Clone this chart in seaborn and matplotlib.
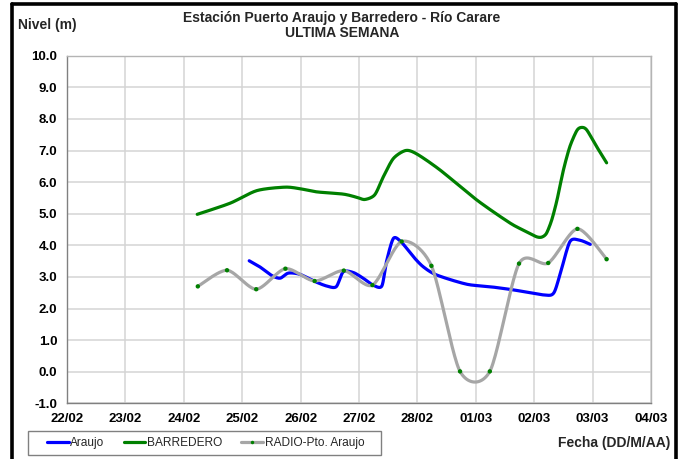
import numpy as np
import pandas as pd
import matplotlib
matplotlib.use("Agg")
import matplotlib.pyplot as plt
from matplotlib.lines import Line2D
from matplotlib.patches import Rectangle
import seaborn as sns

# ---------------- data (days since 22/02) ----------------
date_labels = ["22/02", "23/02", "24/02", "25/02", "26/02", "27/02",
               "28/02", "01/03", "02/03", "03/03", "04/03"]
y_ticks = [-1, 0, 1, 2, 3, 4, 5, 6, 7, 8, 9, 10]

araujo_x = [3.12, 3.30, 3.51, 3.65, 3.79, 3.99, 4.25, 4.45, 4.61, 4.73, 4.90,
            5.07, 5.24, 5.39, 5.47, 5.59, 5.73, 5.93, 6.10, 6.33, 6.84, 7.24,
            7.64, 8.16, 8.33, 8.44, 8.61, 8.78, 8.96]
araujo_y = [3.51, 3.32, 3.04, 2.96, 3.12, 3.08, 2.85, 2.71, 2.69, 3.16, 3.14,
            2.96, 2.74, 2.71, 3.48, 4.22, 4.09, 3.64, 3.32, 3.06, 2.77, 2.69,
            2.59, 2.43, 2.48, 3.06, 4.11, 4.16, 4.03]

barredero_x = [2.23, 2.79, 3.25, 3.73, 3.99, 4.28, 4.73, 4.96, 5.10, 5.27,
               5.42, 5.59, 5.80, 5.99, 6.39, 7.02, 7.59, 7.87, 8.04, 8.13,
               8.21, 8.30, 8.39, 8.50, 8.61, 8.73, 8.81, 8.90, 9.07, 9.24]
barredero_y = [4.98, 5.33, 5.73, 5.84, 5.79, 5.69, 5.62, 5.52, 5.45, 5.60,
               6.18, 6.75, 7.00, 6.89, 6.38, 5.43, 4.70, 4.43, 4.27, 4.26,
               4.38, 4.80, 5.43, 6.38, 7.12, 7.63, 7.73, 7.65, 7.12, 6.61]

radio_x = [2.24, 2.74, 3.24, 3.74, 4.24, 4.74, 5.23, 5.73, 6.24, 6.73, 7.24,
           7.74, 8.24, 8.74, 9.24]
radio_y = [2.70, 3.21, 2.61, 3.26, 2.87, 3.20, 2.74, 4.12, 3.35, 0.01, 0.01,
           3.42, 3.44, 4.52, 3.56]

series_names = ["Araujo", "BARREDERO", "RADIO-Pto. Araujo"]
series_colors = ["#0000FF", "#008000", "#A6A6A6"]


def smooth(xs, ys, sx=58.4, sy=31.6, n=24, tension=0.8):
    """Excel-like smoothed line (Bezier through the points)."""
    P = np.column_stack([np.asarray(xs) * sx, np.asarray(ys) * sy])
    k = tension / 6.0
    out = []
    N = len(P)
    for i in range(N - 1):
        p0 = P[i - 1] if i > 0 else P[i]
        p1 = P[i]
        p2 = P[i + 1]
        p3 = P[i + 2] if i + 2 < N else P[i + 1]
        c1 = p1 + (p2 - p0) * k
        c2 = p2 - (p3 - p1) * k
        t = np.linspace(0, 1, n, endpoint=(i == N - 2))[:, None]
        seg = ((1 - t) ** 3) * p1 + 3 * ((1 - t) ** 2) * t * c1 + 3 * (1 - t) * t ** 2 * c2 + t ** 3 * p2
        out.append(seg)
    out = np.vstack(out)
    return out[:, 0] / sx, out[:, 1] / sy


sns.set_theme(style="white")
plt.rcParams["font.family"] = ["Liberation Sans", "DejaVu Sans"]

fig = plt.figure(figsize=(6.84, 4.59), dpi=100)
ax = fig.add_axes([67 / 684, 1 - 403.3 / 459, (651 - 67) / 684, (403.3 - 55.7) / 459])

for (xs, ys), name, col in zip([(araujo_x, araujo_y), (barredero_x, barredero_y), (radio_x, radio_y)],
                               series_names, series_colors):
    sx_, sy_ = smooth(xs, ys)
    df = pd.DataFrame({"x": sx_, "y": sy_})
    sns.lineplot(data=df, x="x", y="y", sort=False, estimator=None, color=col,
                 lw=2.3, ax=ax, legend=False, solid_capstyle="round")

sns.scatterplot(x=radio_x, y=radio_y, color="#008000", s=10, edgecolor="none",
                ax=ax, zorder=5, legend=False)

ax.set_xlim(0, 10)
ax.set_ylim(-1, 10)
ax.set_xticks(range(len(date_labels)))
ax.set_xticklabels(date_labels)
ax.set_yticks(y_ticks)
ax.set_yticklabels([f"{v:.1f}" for v in y_ticks])
ax.set_xlabel("")
ax.set_ylabel("")
ax.grid(True, color="#D4D4D4", lw=1.1)
ax.set_axisbelow(True)
for s in ["top", "right"]:
    ax.spines[s].set_color("#B4B4B4")
    ax.spines[s].set_linewidth(1.0)
for s in ["left", "bottom"]:
    ax.spines[s].set_color("#808080")
    ax.spines[s].set_linewidth(1.0)
ax.tick_params(axis="both", which="both", direction="out", length=4, width=1,
               color="#808080", labelsize=9.5, pad=3)
for lab in ax.get_xticklabels() + ax.get_yticklabels():
    lab.set_fontweight("bold")
    lab.set_color("black")

fig.text(0.5, 1 - 18 / 459, "Estación Puerto Araujo y Barredero - Río Carare",
         ha="center", va="center", fontsize=10, fontweight="bold")
fig.text(0.5, 1 - 33 / 459, "ULTIMA SEMANA", ha="center", va="center",
         fontsize=10, fontweight="bold")
fig.text(18 / 684, 1 - 25 / 459, "Nivel (m)", ha="left", va="center",
         fontsize=10, fontweight="bold")
fig.text(670 / 684, 1 - 443 / 459, "Fecha (DD/M/AA)", ha="right", va="center",
         fontsize=10, fontweight="bold")

# legend box drawn as a rectangle, entries placed inside it
fig.add_artist(Rectangle((28 / 684, 1 - 455 / 459), (381 - 28) / 684, 24 / 459,
                         transform=fig.transFigure, facecolor="white",
                         edgecolor="#808080", lw=1.0))
handles = [Line2D([0], [0], color=series_colors[0], lw=2.3),
           Line2D([0], [0], color=series_colors[1], lw=2.3),
           Line2D([0], [0], color=series_colors[2], lw=2.3, marker="o",
                  markersize=2.5, markerfacecolor="#008000", markeredgecolor="none")]
leg = fig.legend(handles, series_names, loc="center left",
                 bbox_to_anchor=(47 / 684, 1 - 443 / 459), ncol=3, frameon=False,
                 fontsize=8.6, handlelength=1.8, handletextpad=0.15,
                 columnspacing=1.6, borderpad=0, borderaxespad=0)

# outer black frame (left, top, right)
lw_frame = 2.6
fig.add_artist(Line2D([12 / 684, 12 / 684], [0, 1 - 4 / 459], transform=fig.transFigure,
                      color="black", lw=lw_frame))
fig.add_artist(Line2D([12 / 684, 676 / 684], [1 - 4 / 459, 1 - 4 / 459], transform=fig.transFigure,
                      color="black", lw=lw_frame))
fig.add_artist(Line2D([676 / 684, 676 / 684], [1 - 4 / 459, 0], transform=fig.transFigure,
                      color="black", lw=lw_frame))

fig.savefig("out.png", dpi=100)
